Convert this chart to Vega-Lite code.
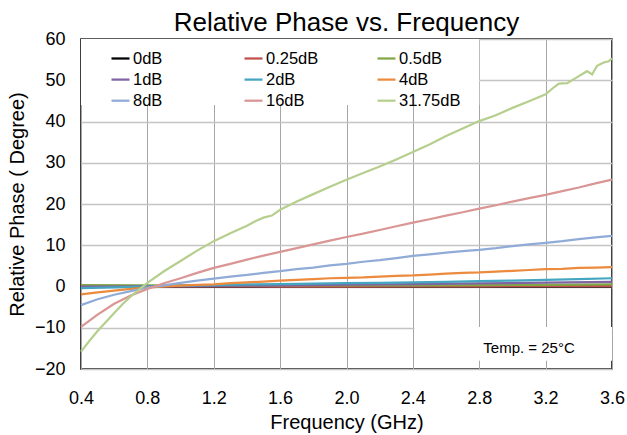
{
  "$schema": "https://vega.github.io/schema/vega-lite/v6.json",
  "width": 531,
  "height": 330,
  "autosize": {"type": "none"},
  "padding": {"left": 81, "top": 39, "right": 15, "bottom": 66},
  "background": "white",
  "config": {
    "font": "Liberation Sans",
    "view": {"stroke": "#000000", "strokeWidth": 1.5},
    "axis": {
      "grid": true,
      "ticks": false,
      "domain": false,
      "labelFontSize": 18,
      "labelColor": "#000000",
      "titleFontSize": 20,
      "titleFontWeight": "normal",
      "titleColor": "#000000",
      "labelFlush": false,
      "labelOverlap": false
    },
    "axisX": {"gridColor": "#a6a6a6", "gridWidth": 1, "labelPadding": 20, "titleY": 53, "titleBaseline": "middle"},
    "axisY": {"gridColor": "#c4c4c4", "gridWidth": 1.5, "labelPadding": 16, "titleX": -64, "titleY": 165, "titleBaseline": "middle"},
    "legend": {
      "orient": "none",
      "direction": "horizontal",
      "legendX": 29,
      "legendY": 9,
      "columns": 3,
      "gridAlign": "all",
      "columnPadding": 45,
      "rowPadding": 2.1,
      "symbolType": "stroke",
      "symbolSize": 324,
      "symbolStrokeWidth": 2.25,
      "labelFontSize": 16.5,
      "labelOffset": 2,
      "labelColor": "#000000",
      "padding": 0
    }
  },
  "title": {"text": "Relative Phase vs. Frequency", "fontSize": 26, "fontWeight": "normal", "color": "#000000", "offset": -6},
  "datasets": {
    "phase": [
      {"s": "0dB", "f": 0.4, "v": 0}, {"s": "0dB", "f": 1.2, "v": 0}, {"s": "0dB", "f": 2.0, "v": 0}, {"s": "0dB", "f": 2.8, "v": 0}, {"s": "0dB", "f": 3.6, "v": 0},
      {"s": "0.25dB", "f": 0.4, "v": 0.1}, {"s": "0.25dB", "f": 0.8, "v": 0.05}, {"s": "0.25dB", "f": 1.2, "v": 0.05}, {"s": "0.25dB", "f": 1.6, "v": 0.0}, {"s": "0.25dB", "f": 2.0, "v": 0.0}, {"s": "0.25dB", "f": 2.4, "v": 0.05}, {"s": "0.25dB", "f": 2.8, "v": 0.05}, {"s": "0.25dB", "f": 3.2, "v": 0.1}, {"s": "0.25dB", "f": 3.6, "v": 0.1},
      {"s": "0.5dB", "f": 0.4, "v": 0.35}, {"s": "0.5dB", "f": 0.8, "v": 0.3}, {"s": "0.5dB", "f": 1.2, "v": 0.25}, {"s": "0.5dB", "f": 1.6, "v": 0.25}, {"s": "0.5dB", "f": 2.0, "v": 0.25}, {"s": "0.5dB", "f": 2.4, "v": 0.3}, {"s": "0.5dB", "f": 2.8, "v": 0.35}, {"s": "0.5dB", "f": 3.2, "v": 0.4}, {"s": "0.5dB", "f": 3.6, "v": 0.5},
      {"s": "1dB", "f": 0.4, "v": 0.0}, {"s": "1dB", "f": 0.8, "v": 0.05}, {"s": "1dB", "f": 1.2, "v": 0.15}, {"s": "1dB", "f": 1.6, "v": 0.3}, {"s": "1dB", "f": 2.0, "v": 0.45}, {"s": "1dB", "f": 2.4, "v": 0.6}, {"s": "1dB", "f": 2.8, "v": 0.75}, {"s": "1dB", "f": 3.2, "v": 0.95}, {"s": "1dB", "f": 3.6, "v": 1.15},
      {"s": "2dB", "f": 0.4, "v": -0.4}, {"s": "2dB", "f": 0.6, "v": -0.2}, {"s": "2dB", "f": 0.8, "v": 0.0}, {"s": "2dB", "f": 1.0, "v": 0.2}, {"s": "2dB", "f": 1.2, "v": 0.35}, {"s": "2dB", "f": 1.4, "v": 0.5}, {"s": "2dB", "f": 1.6, "v": 0.6}, {"s": "2dB", "f": 1.8, "v": 0.7}, {"s": "2dB", "f": 2.0, "v": 0.8}, {"s": "2dB", "f": 2.2, "v": 0.9}, {"s": "2dB", "f": 2.4, "v": 1.0}, {"s": "2dB", "f": 2.6, "v": 1.15}, {"s": "2dB", "f": 2.8, "v": 1.3}, {"s": "2dB", "f": 3.0, "v": 1.45}, {"s": "2dB", "f": 3.2, "v": 1.6}, {"s": "2dB", "f": 3.4, "v": 1.8}, {"s": "2dB", "f": 3.6, "v": 2.0},
      {"s": "4dB", "f": 0.4, "v": -1.9}, {"s": "4dB", "f": 0.5, "v": -1.4}, {"s": "4dB", "f": 0.6, "v": -1.0}, {"s": "4dB", "f": 0.7, "v": -0.6}, {"s": "4dB", "f": 0.8, "v": -0.3}, {"s": "4dB", "f": 0.9, "v": 0.0}, {"s": "4dB", "f": 1.0, "v": 0.2}, {"s": "4dB", "f": 1.1, "v": 0.4}, {"s": "4dB", "f": 1.2, "v": 0.5}, {"s": "4dB", "f": 1.3, "v": 0.8}, {"s": "4dB", "f": 1.4, "v": 1.0}, {"s": "4dB", "f": 1.5, "v": 1.2}, {"s": "4dB", "f": 1.6, "v": 1.4}, {"s": "4dB", "f": 1.7, "v": 1.6}, {"s": "4dB", "f": 1.8, "v": 1.8}, {"s": "4dB", "f": 1.9, "v": 2.0}, {"s": "4dB", "f": 2.0, "v": 2.1}, {"s": "4dB", "f": 2.1, "v": 2.2}, {"s": "4dB", "f": 2.2, "v": 2.4}, {"s": "4dB", "f": 2.3, "v": 2.6}, {"s": "4dB", "f": 2.4, "v": 2.7}, {"s": "4dB", "f": 2.5, "v": 2.9}, {"s": "4dB", "f": 2.6, "v": 3.1}, {"s": "4dB", "f": 2.7, "v": 3.3}, {"s": "4dB", "f": 2.8, "v": 3.4}, {"s": "4dB", "f": 2.9, "v": 3.6}, {"s": "4dB", "f": 3.0, "v": 3.8}, {"s": "4dB", "f": 3.1, "v": 4.0}, {"s": "4dB", "f": 3.2, "v": 4.2}, {"s": "4dB", "f": 3.3, "v": 4.3}, {"s": "4dB", "f": 3.4, "v": 4.5}, {"s": "4dB", "f": 3.5, "v": 4.6}, {"s": "4dB", "f": 3.6, "v": 4.7},
      {"s": "8dB", "f": 0.4, "v": -4.5}, {"s": "8dB", "f": 0.5, "v": -3.1}, {"s": "8dB", "f": 0.6, "v": -2.0}, {"s": "8dB", "f": 0.7, "v": -1.1}, {"s": "8dB", "f": 0.8, "v": -0.3}, {"s": "8dB", "f": 0.9, "v": 0.3}, {"s": "8dB", "f": 1.0, "v": 0.9}, {"s": "8dB", "f": 1.1, "v": 1.4}, {"s": "8dB", "f": 1.2, "v": 1.9}, {"s": "8dB", "f": 1.3, "v": 2.4}, {"s": "8dB", "f": 1.4, "v": 2.8}, {"s": "8dB", "f": 1.5, "v": 3.3}, {"s": "8dB", "f": 1.6, "v": 3.7}, {"s": "8dB", "f": 1.7, "v": 4.2}, {"s": "8dB", "f": 1.8, "v": 4.6}, {"s": "8dB", "f": 1.9, "v": 5.1}, {"s": "8dB", "f": 2.0, "v": 5.5}, {"s": "8dB", "f": 2.1, "v": 6.0}, {"s": "8dB", "f": 2.2, "v": 6.4}, {"s": "8dB", "f": 2.3, "v": 6.9}, {"s": "8dB", "f": 2.4, "v": 7.4}, {"s": "8dB", "f": 2.5, "v": 7.8}, {"s": "8dB", "f": 2.6, "v": 8.2}, {"s": "8dB", "f": 2.7, "v": 8.6}, {"s": "8dB", "f": 2.8, "v": 8.9}, {"s": "8dB", "f": 2.9, "v": 9.3}, {"s": "8dB", "f": 3.0, "v": 9.8}, {"s": "8dB", "f": 3.1, "v": 10.2}, {"s": "8dB", "f": 3.2, "v": 10.6}, {"s": "8dB", "f": 3.3, "v": 11.0}, {"s": "8dB", "f": 3.4, "v": 11.5}, {"s": "8dB", "f": 3.5, "v": 11.9}, {"s": "8dB", "f": 3.6, "v": 12.3},
      {"s": "16dB", "f": 0.4, "v": -9.8}, {"s": "16dB", "f": 0.5, "v": -6.8}, {"s": "16dB", "f": 0.6, "v": -4.2}, {"s": "16dB", "f": 0.7, "v": -2.2}, {"s": "16dB", "f": 0.8, "v": -0.6}, {"s": "16dB", "f": 0.9, "v": 0.8}, {"s": "16dB", "f": 1.0, "v": 2.0}, {"s": "16dB", "f": 1.1, "v": 3.3}, {"s": "16dB", "f": 1.2, "v": 4.5}, {"s": "16dB", "f": 1.3, "v": 5.5}, {"s": "16dB", "f": 1.4, "v": 6.5}, {"s": "16dB", "f": 1.5, "v": 7.5}, {"s": "16dB", "f": 1.6, "v": 8.4}, {"s": "16dB", "f": 1.7, "v": 9.3}, {"s": "16dB", "f": 1.8, "v": 10.2}, {"s": "16dB", "f": 1.9, "v": 11.1}, {"s": "16dB", "f": 2.0, "v": 12.0}, {"s": "16dB", "f": 2.1, "v": 12.8}, {"s": "16dB", "f": 2.2, "v": 13.7}, {"s": "16dB", "f": 2.3, "v": 14.6}, {"s": "16dB", "f": 2.4, "v": 15.5}, {"s": "16dB", "f": 2.5, "v": 16.3}, {"s": "16dB", "f": 2.6, "v": 17.2}, {"s": "16dB", "f": 2.7, "v": 18.0}, {"s": "16dB", "f": 2.8, "v": 18.9}, {"s": "16dB", "f": 2.9, "v": 19.7}, {"s": "16dB", "f": 3.0, "v": 20.6}, {"s": "16dB", "f": 3.1, "v": 21.4}, {"s": "16dB", "f": 3.2, "v": 22.2}, {"s": "16dB", "f": 3.3, "v": 23.1}, {"s": "16dB", "f": 3.4, "v": 24.0}, {"s": "16dB", "f": 3.5, "v": 25.0}, {"s": "16dB", "f": 3.6, "v": 25.9},
      {"s": "31.75dB", "f": 0.4, "v": -15.8}, {"s": "31.75dB", "f": 0.45, "v": -13.2}, {"s": "31.75dB", "f": 0.5, "v": -10.8}, {"s": "31.75dB", "f": 0.55, "v": -8.6}, {"s": "31.75dB", "f": 0.6, "v": -6.4}, {"s": "31.75dB", "f": 0.65, "v": -4.3}, {"s": "31.75dB", "f": 0.7, "v": -2.4}, {"s": "31.75dB", "f": 0.8, "v": 0.9}, {"s": "31.75dB", "f": 0.9, "v": 3.7}, {"s": "31.75dB", "f": 1.0, "v": 6.2}, {"s": "31.75dB", "f": 1.1, "v": 8.7}, {"s": "31.75dB", "f": 1.2, "v": 11.0}, {"s": "31.75dB", "f": 1.3, "v": 12.9}, {"s": "31.75dB", "f": 1.4, "v": 14.7}, {"s": "31.75dB", "f": 1.45, "v": 15.8}, {"s": "31.75dB", "f": 1.5, "v": 16.7}, {"s": "31.75dB", "f": 1.55, "v": 17.2}, {"s": "31.75dB", "f": 1.6, "v": 18.6}, {"s": "31.75dB", "f": 1.7, "v": 20.6}, {"s": "31.75dB", "f": 1.8, "v": 22.4}, {"s": "31.75dB", "f": 1.9, "v": 24.2}, {"s": "31.75dB", "f": 2.0, "v": 25.9}, {"s": "31.75dB", "f": 2.1, "v": 27.5}, {"s": "31.75dB", "f": 2.2, "v": 29.1}, {"s": "31.75dB", "f": 2.3, "v": 30.8}, {"s": "31.75dB", "f": 2.4, "v": 32.6}, {"s": "31.75dB", "f": 2.5, "v": 34.4}, {"s": "31.75dB", "f": 2.6, "v": 36.5}, {"s": "31.75dB", "f": 2.7, "v": 38.3}, {"s": "31.75dB", "f": 2.8, "v": 40.1}, {"s": "31.75dB", "f": 2.9, "v": 41.5}, {"s": "31.75dB", "f": 3.0, "v": 43.3}, {"s": "31.75dB", "f": 3.1, "v": 44.9}, {"s": "31.75dB", "f": 3.2, "v": 46.6}, {"s": "31.75dB", "f": 3.25, "v": 48.3}, {"s": "31.75dB", "f": 3.28, "v": 49.2}, {"s": "31.75dB", "f": 3.33, "v": 49.3}, {"s": "31.75dB", "f": 3.4, "v": 51.0}, {"s": "31.75dB", "f": 3.45, "v": 52.2}, {"s": "31.75dB", "f": 3.48, "v": 51.4}, {"s": "31.75dB", "f": 3.51, "v": 53.5}, {"s": "31.75dB", "f": 3.55, "v": 54.3}, {"s": "31.75dB", "f": 3.58, "v": 54.6}, {"s": "31.75dB", "f": 3.6, "v": 55.3}
    ]
  },
  "layer": [
    {
      "data": {"values": [{}]},
      "mark": {"type": "rect", "fill": "white"},
      "encoding": {
        "x": {"datum": 0.4, "type": "quantitative", "title": "Frequency (GHz)"},
        "x2": {"datum": 2.8},
        "y": {"datum": 60, "type": "quantitative", "title": "Relative Phase ( Degree)"},
        "y2": {"datum": 44}
      }
    },
    {
      "data": {"values": [{}]},
      "mark": {"type": "rect", "fill": "white"},
      "encoding": {
        "x": {"datum": 2.41, "type": "quantitative", "title": "Frequency (GHz)"},
        "x2": {"datum": 3.6},
        "y": {"datum": -9.8, "type": "quantitative", "title": "Relative Phase ( Degree)"},
        "y2": {"datum": -18}
      }
    },
    {
      "data": {"name": "phase"},
      "mark": {"type": "line", "strokeWidth": 2.25},
      "encoding": {
        "x": {
          "field": "f", "type": "quantitative", "title": "Frequency (GHz)",
          "scale": {"domain": [0.4, 3.6], "nice": false, "zero": false},
          "axis": {"values": [0.4, 0.8, 1.2, 1.6, 2.0, 2.4, 2.8, 3.2, 3.6], "format": ".1f"}
        },
        "y": {
          "field": "v", "type": "quantitative", "title": "Relative Phase ( Degree)",
          "scale": {"domain": [-20, 60], "nice": false, "zero": false},
          "axis": {"values": [-20, -10, 0, 10, 20, 30, 40, 50, 60]}
        },
        "color": {
          "field": "s", "type": "nominal", "title": null,
          "scale": {
            "domain": ["0dB", "0.25dB", "0.5dB", "1dB", "2dB", "4dB", "8dB", "16dB", "31.75dB"],
            "range": ["#000000", "#C0504D", "#82A646", "#8064A2", "#44A6C0", "#EC8A3D", "#90ABD8", "#D99694", "#B6CF8E"]
          }
        }
      }
    },
    {
      "data": {"values": [{"f": 3.1, "v": -15.0, "t": "Temp. = 25°C"}]},
      "mark": {"type": "text", "fontSize": 15, "color": "#000000", "font": "Liberation Sans"},
      "encoding": {
        "x": {"field": "f", "type": "quantitative", "title": "Frequency (GHz)"},
        "y": {"field": "v", "type": "quantitative", "title": "Relative Phase ( Degree)"},
        "text": {"field": "t"}
      }
    }
  ]
}
